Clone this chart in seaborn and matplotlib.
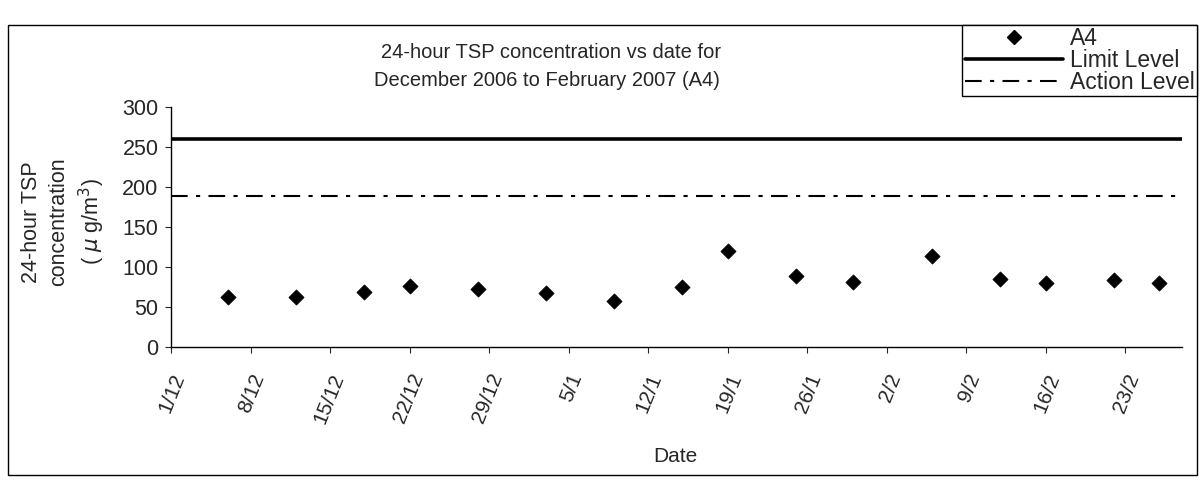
import matplotlib
matplotlib.use("Agg")
import matplotlib.pyplot as plt
from matplotlib.lines import Line2D
from matplotlib.patches import Rectangle
import pandas as pd
import seaborn as sns

# sampling dates and 24-hour TSP readings at A4
dates = ["2006-12-06", "2006-12-12", "2006-12-18", "2006-12-22", "2006-12-28",
         "2007-01-03", "2007-01-09", "2007-01-15", "2007-01-19", "2007-01-25",
         "2007-01-30", "2007-02-06", "2007-02-12", "2007-02-16", "2007-02-22",
         "2007-02-26"]
tsp = [62, 63, 69, 76, 73, 68, 57, 75, 120, 89, 81, 114, 85, 80, 84, 80]

limit_level = 260
action_level = 189

tick_dates = pd.date_range("2006-12-01", "2007-02-23", freq="7D")
x_start, x_end = pd.Timestamp("2006-12-01"), pd.Timestamp("2007-02-28")

df = pd.DataFrame({"Date": pd.to_datetime(dates), "TSP": tsp})

sns.set_style("white")
plt.rcParams["font.family"] = ["Liberation Sans", "DejaVu Sans"]

W, H = 1201, 482
fig = plt.figure(figsize=(W / 100, H / 100), dpi=100)
ax = fig.add_axes([171 / W, 1 - 347 / H, (1182 - 171) / W, (347 - 107) / H])

sns.scatterplot(data=df, x="Date", y="TSP", marker="D", s=60, color="black",
                edgecolor="black", linewidth=0.5, ax=ax, zorder=3, legend=False)
ax.axhline(limit_level, color="black", lw=2.6)
ax.axhline(action_level, color="black", lw=1.5, dashes=(8, 4, 2, 4))

ax.set_xlim(x_start, x_end)
ax.set_ylim(0, 300)
ax.set_yticks(range(0, 301, 50))
ax.set_xticks(tick_dates)
ax.set_xticklabels([f"{d.day}/{d.month}" for d in tick_dates], rotation=68,
                   ha="right", rotation_mode="anchor", fontsize=15)
ax.tick_params(axis="y", labelsize=15.5, length=4, direction="out", left=True, pad=5)
ax.tick_params(axis="x", length=4, direction="out", bottom=True, pad=13)

for side in ["top", "right"]:
    ax.spines[side].set_visible(False)
for side in ["left", "bottom"]:
    ax.spines[side].set_color("black")
    ax.spines[side].set_linewidth(1.0)

ax.set_xlabel("Date", fontsize=15)
ax.xaxis.set_label_coords((675 - 171) / 1011, -(447 - 347) / 240)
ax.set_ylabel("24-hour TSP\nconcentration\n( $\\mu$ g/m$^3$)", fontsize=15.5,
              linespacing=1.35)
ax.yaxis.set_label_coords(-(171 - 107) / 1011, (347 - 222) / 240)

fig.text(551 / W, 1 - 52 / H, "24-hour TSP concentration vs date for",
         ha="center", va="center", fontsize=14.5)
fig.text(547 / W, 1 - 80 / H, "December 2006 to February 2007 (A4)",
         ha="center", va="center", fontsize=14.5)

handles = [
    Line2D([], [], marker="D", color="black", ls="none", markersize=7),
    Line2D([], [], color="black", lw=2.6),
    Line2D([], [], color="black", lw=1.5, dashes=(8, 4, 2, 4)),
]
fig.legend(handles, ["A4", "Limit Level", "Action Level"], loc="upper right",
           bbox_to_anchor=(1197 / W, 1 - 25 / H), fontsize=16.5,
           frameon=True, fancybox=False, edgecolor="black", framealpha=1,
           borderpad=0.1, handlelength=4.3, handletextpad=0.3,
           labelspacing=-0.05, borderaxespad=0)

fig.patches.append(Rectangle((8 / W, 1 - 475 / H), 1189 / W, 450 / H,
                             transform=fig.transFigure, fill=False,
                             edgecolor="black", lw=1.0))

fig.savefig("out.png", dpi=100)
